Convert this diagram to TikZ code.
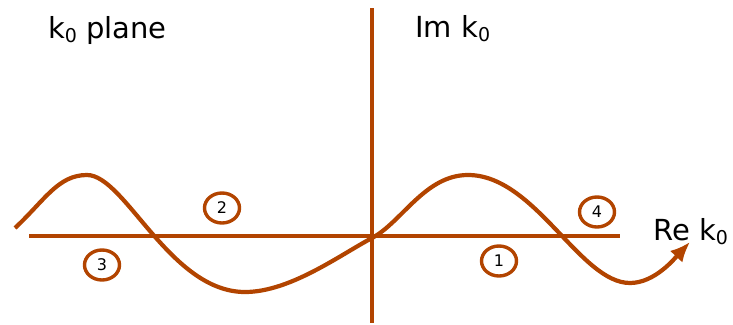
\documentclass[tikz,border=0pt]{standalone}
\usepackage{fontspec}
\setmainfont{DejaVu Sans}
\usetikzlibrary{arrows.meta,positioning,shapes.geometric}
\definecolor{cRust}{RGB}{178,68,0}
\newcommand{\kzero}{k\raisebox{-4pt}{\fontsize{19}{19}\selectfont 0}}

\begin{document}
\begin{tikzpicture}[x=1pt, y=-1pt, font=\fontsize{29}{34}\selectfont,
      axis/.style={draw=cRust, line width=4pt},
      contour/.style={draw=cRust, line width=4.2pt},
      numtag/.style={ellipse, draw=cRust, line width=3.4pt, minimum width=35pt,
                  minimum height=30pt, inner sep=0pt, font=\fontsize{16}{16}\selectfont}]
    \useasboundingbox (0,0) rectangle (733,324);
    % axes
    \coordinate (reL) at (29,236);
    \coordinate (reR) at (620,236);
    \coordinate (imT) at (372,8);
    \coordinate (imB) at (372,323);
    \draw[axis] (reL) -- (reR);
    \draw[axis] (imT) -- (imB);
    % contour
    \draw[contour, -{Latex[length=20pt,width=17pt]}] (15,228)
      .. controls (45,200) and (58,175) .. (87,175)
      .. controls (125,175) and (170,292) .. (245,292)
      .. controls (290,292) and (340,255) .. (372,238)
      .. controls (402,222) and (425,175) .. (468,175)
      .. controls (535,175) and (580,283) .. (630,283)
      .. controls (655,283) and (675,258) .. (690,242);
    % labels
    \node[anchor=base west, inner sep=0pt] (plane) at (48,38) {\kzero\ plane};
    \node[anchor=base west, inner sep=0pt] (imlab) at (415,37) {Im \kzero};
    \node[anchor=base west, inner sep=0pt] (relab) at (653,240) {Re \kzero};
    \node[numtag] (t1) at (499,261) {1};
    \node[numtag] (t2) at (222,208) {2};
    \node[numtag] (t3) at (102,265) {3};
    \node[numtag] (t4) at (597,212) {4};
  \end{tikzpicture}
\end{document}
